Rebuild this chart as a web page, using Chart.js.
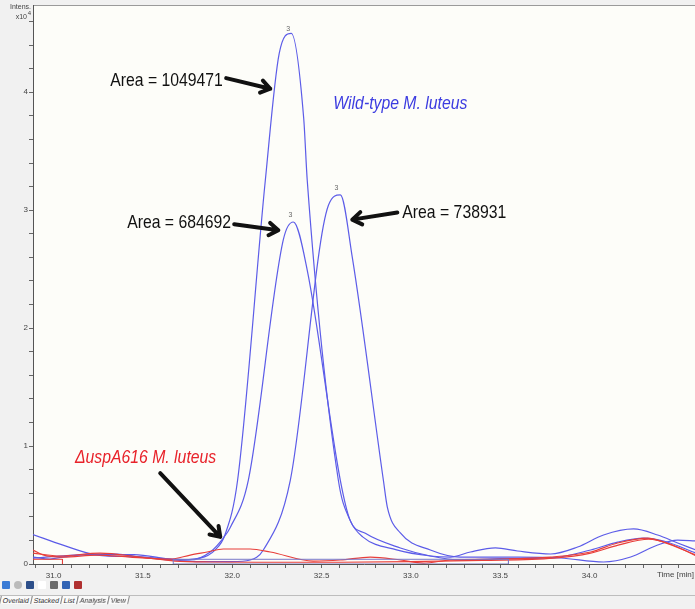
<!DOCTYPE html>
<html>
<head>
<meta charset="utf-8">
<script src="https://cdn.jsdelivr.net/npm/chart.js@4"></script>
<style>
  body { margin: 0; background: #fff; }
  #wrap { position: relative; width: 695px; height: 609px; overflow: hidden; }
  #tools { position: absolute; left: 2px; top: 581px; height: 11px; display: flex; gap: 4px; }
  #tools span { display: inline-block; width: 8px; height: 8px; border-radius: 1px; }
  #tabs { position: absolute; left: 0; top: 595px; width: 695px; height: 14px; border-top: 1px solid #bdbdbd;
          font: 7px "Liberation Sans", sans-serif; color: #333; white-space: nowrap; }
  #tabs span { display: inline-block; padding: 1px 2px 0 2px; border-left: 1px solid #888; border-right: 1px solid #888;
               transform: skewX(-12deg); margin-right: -1px; background: #fafafa; }
</style>
</head>
<body>
<div id="wrap">
<canvas id="grafico" width="695" height="609"></canvas>
<div id="tools">
  <span style="background:#3a7bd5"></span><span style="background:#bbb;border-radius:4px"></span>
  <span style="background:#2d4f8a"></span><span style="background:#fff"></span>
  <span style="background:#6b6b6b"></span><span style="background:#3264b4"></span><span style="background:#b03030"></span>
</div>
<div id="tabs"><span>Overlaid</span><span>Stacked</span><span>List</span><span>Analysis</span><span>View</span></div>
</div>
<script>
// TEMPO (min) / INTENSIDADE (x10^4)
// tipo selvagem - pico alto (Area = 1049471)
var tempoA = [30.885, 31.053, 31.244, 31.485, 31.67, 31.82, 31.905, 31.96, 32.03, 32.185, 32.263, 32.33, 32.40, 32.42, 32.594, 32.66, 32.73, 32.92, 33.11, 33.221, 33.333, 33.473, 33.597, 33.782, 33.933, 34.078, 34.246, 34.381, 34.493, 34.594];
var intensA = [0.25, 0.16, 0.076, 0.06, 0.034, 0.05, 0.12, 0.25, 0.71, 3.25, 4.33, 4.5, 3.78, 3.25, 0.71, 0.37, 0.23, 0.12, 0.068, 0.059, 0.102, 0.136, 0.11, 0.085, 0.144, 0.246, 0.297, 0.246, 0.178, 0.119];
// tipo selvagem - pico medio (Area = 684692)
var tempoB = [30.885, 30.98, 31.053, 31.244, 31.356, 31.485, 31.67, 31.765, 31.877, 31.95, 31.989, 32.09, 32.286, 32.342, 32.42, 32.605, 32.66, 32.745, 32.941, 33.109, 33.277, 33.5, 33.782, 34.006, 34.157, 34.303, 34.415, 34.594];
var intensB = [0.059, 0.042, 0.059, 0.085, 0.085, 0.059, 0.042, 0.034, 0.102, 0.22, 0.31, 0.71, 2.75, 2.9, 2.49, 0.71, 0.37, 0.26, 0.136, 0.068, 0.034, 0.045, 0.051, 0.119, 0.186, 0.22, 0.195, 0.093];
// tipo selvagem - pico direito (Area = 738931)
var tempoC = [30.885, 31.2, 31.45, 31.65, 31.8, 32.0, 32.1, 32.174, 32.325, 32.538, 32.605, 32.672, 32.846, 32.868, 32.941, 33.109, 33.277, 33.597, 33.838, 34.078, 34.23, 34.381, 34.493, 34.594];
var intensC = [0.05, 0.08, 0.08, 0.04, 0.02, 0.02, 0.034, 0.119, 0.71, 3.04, 3.13, 2.6, 0.71, 0.483, 0.263, 0.119, 0.059, 0.059, 0.051, 0.017, 0.059, 0.161, 0.203, 0.195];
// mutante uspA616
var tempoR1 = [30.885, 30.941, 31.053, 31.244, 31.429, 31.653, 31.765, 31.86, 31.95, 32.10, 32.213, 32.454, 32.605, 32.773, 32.941, 33.07, 33.221, 33.50, 33.782, 34.006, 34.157, 34.325, 34.415, 34.594];
var intensR1 = [0.119, 0.076, 0.059, 0.076, 0.059, 0.042, 0.076, 0.102, 0.127, 0.127, 0.102, 0.025, 0.034, 0.059, 0.034, 0.008, 0.034, 0.042, 0.059, 0.102, 0.178, 0.22, 0.186, 0.076];
var tempoR2 = [30.885, 31.036, 31.26, 31.485, 31.68, 31.877, 32.2, 32.6, 33.0, 33.4, 33.8, 34.0, 34.16, 34.33, 34.45, 34.594];
var intensR2 = [0.093, 0.068, 0.093, 0.059, 0.025, 0.017, 0.015, 0.015, 0.02, 0.03, 0.05, 0.09, 0.16, 0.21, 0.17, 0.07];
// regioes de integracao
var integBlueT = [31.67, 31.67, 33.546, 33.546, 31.67];
var integBlueV = [0, 0.04, 0.04, 0, 0];
var integRedT = [30.885, 31.05, 31.05];
var integRedV = [0.04, 0.04, 0];

// ANOTACOES
var textos = [
  { t: 31.317, v: 4.10, txt: "Area = 1049471", cor: "#111", italic: false },
  { t: 31.412, v: 2.89, txt: "Area = 684692", cor: "#111", italic: false },
  { t: 32.952, v: 2.98, txt: "Area = 738931", cor: "#111", italic: false },
  { t: 32.566, v: 3.90, txt: "Wild-type M. luteus", cor: "#3c3ce0", italic: true },
  { t: 31.12, v: 0.90, txt: "\u0394uspA616 M. luteus", cor: "#e8222a", italic: true }
];
var setas = [
  { t0: 31.966, v0: 4.12, t1: 32.213, v1: 4.03 },
  { t0: 32.011, v0: 2.88, t1: 32.258, v1: 2.83 },
  { t0: 32.924, v0: 2.98, t1: 32.672, v1: 2.92 },
  { t0: 31.597, v0: 0.77, t1: 31.933, v1: 0.23 }
];
var picos = [
  { t: 32.33, v: 4.5 }, { t: 32.342, v: 2.92 }, { t: 32.6, v: 3.15 }
];

function pares(ts, vs) {
  return ts.map(function (t, i) { return { x: t, y: vs[i] }; });
}

var azul = 'rgb(92, 92, 232)';
var vermelho = 'rgb(232, 62, 58)';

var fundo = {
  id: 'fundo',
  beforeDraw: function (chart) {
    var c = chart.ctx, a = chart.chartArea;
    c.save();
    c.fillStyle = '#f1f1f1';
    c.fillRect(0, 0, chart.width, chart.height);
    c.fillStyle = '#fdfdf9';
    c.fillRect(a.left, a.top, a.right - a.left, a.bottom - a.top);
    c.strokeStyle = '#9a9a9a';
    c.lineWidth = 1;
    c.beginPath();
    c.moveTo(a.left, a.top + 0.5); c.lineTo(a.right, a.top + 0.5);
    c.stroke();
    c.restore();
  },
  afterDraw: function (chart) {
    var c = chart.ctx, sx = chart.scales.x, sy = chart.scales.y, a = chart.chartArea;
    c.save();
    // titulo do eixo y
    c.fillStyle = '#444';
    c.font = '7px "Liberation Sans", sans-serif';
    c.textAlign = 'right';
    c.fillText('Intens.', 31, 9);
    c.fillText('x10', 27, 19);
    c.font = '6px "Liberation Sans", sans-serif';
    c.fillText('4', 31, 15);
    // titulo do eixo x
    c.font = '8px "Liberation Sans", sans-serif';
    c.textBaseline = 'top';
    c.fillText('Time [min]', chart.width - 1, a.bottom + 7);
    // textos (fonte condensada)
    textos.forEach(function (o) {
      c.save();
      c.fillStyle = o.cor;
      c.font = (o.italic ? 'italic ' : '') + '19px "Liberation Sans", sans-serif';
      c.textAlign = 'left';
      c.textBaseline = 'middle';
      c.translate(sx.getPixelForValue(o.t), sy.getPixelForValue(o.v));
      c.scale(0.83, 1);
      c.fillText(o.txt, 0, 0);
      c.restore();
    });
    // setas
    c.strokeStyle = '#111';
    c.lineWidth = 4;
    c.lineCap = 'round';
    c.lineJoin = 'round';
    setas.forEach(function (s) {
      var x0 = sx.getPixelForValue(s.t0), y0 = sy.getPixelForValue(s.v0);
      var x1 = sx.getPixelForValue(s.t1), y1 = sy.getPixelForValue(s.v1);
      var ang = Math.atan2(y1 - y0, x1 - x0), L = 11;
      c.beginPath();
      c.moveTo(x0, y0); c.lineTo(x1, y1);
      c.moveTo(x1 - L * Math.cos(ang - 0.6), y1 - L * Math.sin(ang - 0.6));
      c.lineTo(x1, y1);
      c.lineTo(x1 - L * Math.cos(ang + 0.6), y1 - L * Math.sin(ang + 0.6));
      c.stroke();
    });
    // numeros dos picos
    c.fillStyle = '#666';
    c.font = '7px "Liberation Sans", sans-serif';
    c.textAlign = 'center';
    c.textBaseline = 'bottom';
    picos.forEach(function (p) {
      c.fillText('3', sx.getPixelForValue(p.t) - 3, sy.getPixelForValue(p.v) - 1);
    });
    c.restore();
  }
};

function linha(label, ts, vs, cor) {
  return {
    label: label, data: pares(ts, vs), borderColor: cor, backgroundColor: cor,
    borderWidth: 1.2, pointRadius: 0, cubicInterpolationMode: 'monotone', fill: false
  };
}

var ctx = document.getElementById('grafico').getContext('2d');
var chart = new Chart(ctx, {
  type: 'line',
  data: {
    datasets: [
      {
        label: 'integ azul', data: pares(integBlueT, integBlueV), borderColor: 'rgb(120,120,200)',
        backgroundColor: 'rgba(140,140,205,0.8)', borderWidth: 1, pointRadius: 0, tension: 0, fill: true
      },
      { label: 'integ vermelho', data: pares(integRedT, integRedV), borderColor: vermelho, borderWidth: 1, pointRadius: 0, tension: 0, fill: false },
      linha('R2', tempoR2, intensR2, vermelho),
      linha('R1', tempoR1, intensR1, vermelho),
      linha('A', tempoA, intensA, azul),
      linha('B', tempoB, intensB, azul),
      linha('C', tempoC, intensC, azul)
    ]
  },
  plugins: [fundo],
  options: {
    responsive: false,
    animation: false,
    devicePixelRatio: 1,
    layout: { padding: { top: 5, right: 0, left: 0, bottom: 0 } },
    plugins: { legend: { display: false }, tooltip: { enabled: false } },
    scales: {
      x: {
        type: 'linear', min: 30.885, max: 34.59,
        afterFit: function (s) { s.height = 45; s.paddingRight = 0; s.paddingLeft = 0; },
        border: { color: '#555' },
        grid: { drawOnChartArea: false, tickLength: 4, color: '#666' },
        ticks: {
          stepSize: 0.1, autoSkip: false, maxRotation: 0, includeBounds: false, padding: 3,
          color: '#444', font: { size: 8, family: '"Liberation Sans", sans-serif' },
          callback: function (v) {
            if (Math.abs(v * 2 - Math.round(v * 2)) > 1e-6) return '';
            if (Math.abs(v - 34.5) < 1e-6) return '';
            return v.toFixed(1);
          }
        }
      },
      y: {
        min: 0, max: 4.74,
        afterFit: function (s) { s.width = 33; s.paddingTop = 0; s.paddingBottom = 0; },
        border: { color: '#555' },
        grid: { drawOnChartArea: false, tickLength: 4, color: '#666' },
        ticks: {
          stepSize: 0.2, autoSkip: false, includeBounds: false, padding: 1,
          color: '#444', font: { size: 8, family: '"Liberation Sans", sans-serif' },
          callback: function (v) {
            return Math.abs(v - Math.round(v)) < 1e-6 ? String(Math.round(v)) : '';
          }
        }
      }
    }
  }
});
</script>
</body>
</html>
